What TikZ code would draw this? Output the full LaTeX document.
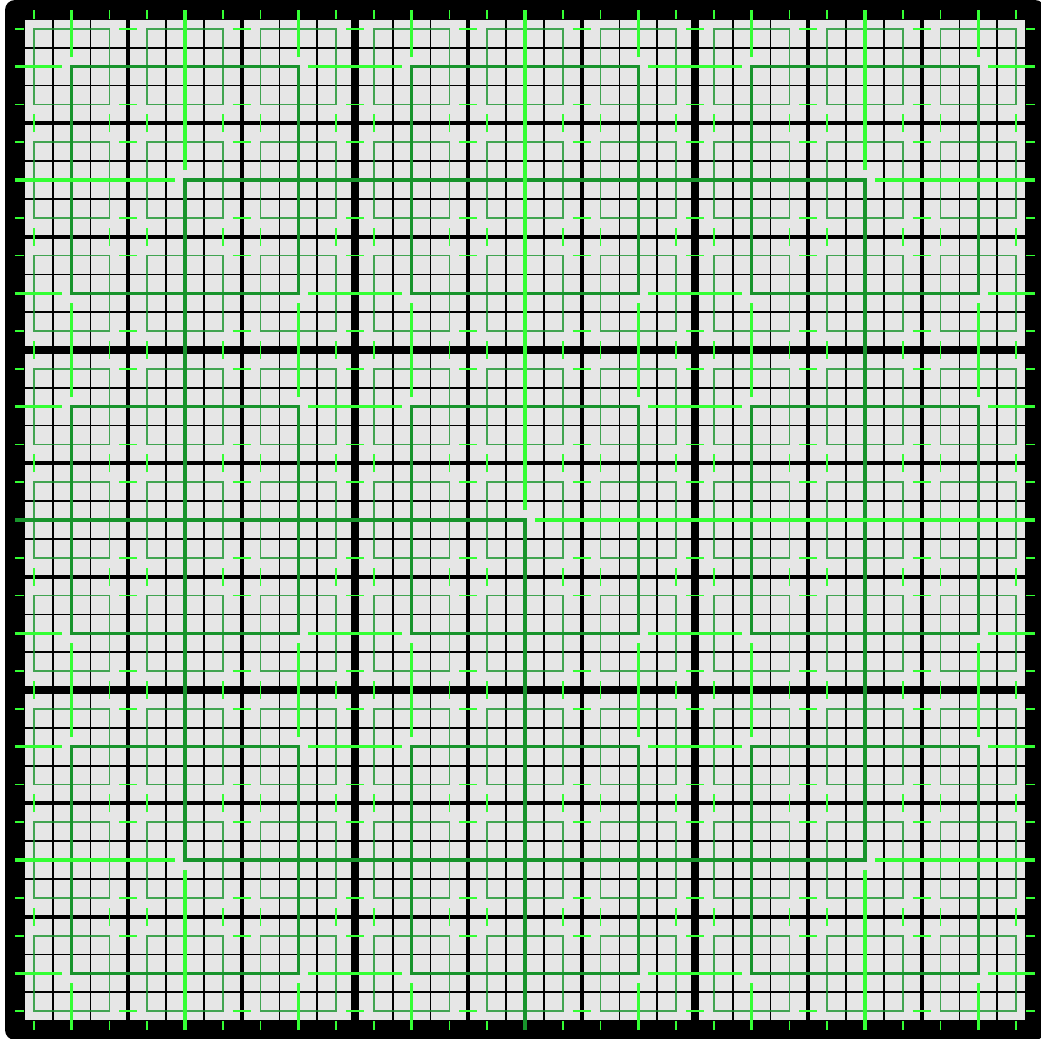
\documentclass[tikz,border=0pt]{standalone}
\definecolor{cellgray}{RGB}{230,230,230}
\definecolor{ringgreen}{RGB}{24,148,44}
\definecolor{spurgreen}{RGB}{52,255,52}

% one block: ring through the centres of its corner sub-blocks, spurs out to its edges
\newcommand{\ringblock}[4]{%
  \draw[ring#4] ({#1+#3/6},{#2+#3/6}) rectangle ({#1+5*#3/6},{#2+5*#3/6});
  \foreach \cornoff in {#3/6,5*#3/6}{
    \draw[spur#4] ({#1},{#2+\cornoff}) -- ({#1+#3/6-0.26},{#2+\cornoff});
    \draw[spur#4] ({#1+5*#3/6+0.26},{#2+\cornoff}) -- ({#1+#3},{#2+\cornoff});
    \draw[spur#4] ({#1+\cornoff},{#2}) -- ({#1+\cornoff},{#2+#3/6-0.26});
    \draw[spur#4] ({#1+\cornoff},{#2+5*#3/6+0.26}) -- ({#1+\cornoff},{#2+#3});
  }%
}

\begin{document}
\begin{tikzpicture}[
    ring0/.style={draw=ringgreen, line width=1.4pt, opacity=0.8},
    ring1/.style={draw=ringgreen, line width=2pt},
    ring2/.style={draw=ringgreen, line width=2.5pt},
    ring3/.style={draw=ringgreen, line width=3.5pt},
    spur0/.style={draw=spurgreen, line width=1.4pt},
    spur1/.style={draw=spurgreen, line width=2pt},
    spur2/.style={draw=spurgreen, line width=2.5pt},
    spur3/.style={draw=spurgreen, line width=3.5pt}
]
\useasboundingbox (-0.397,-0.212) rectangle (27.159,27.265);
\fill[cellgray] (0,0) rectangle (27,27);
\draw[line width=1.4pt] (0,0) grid (27,27);
\draw[line width=3pt, step=3] (0,0) grid (27,27);
\draw[line width=6.5pt, step=9] (0,0) grid (27,27);
\draw[line width=15pt, line join=round] (0,0) rectangle (27,27);

\foreach \i in {0,...,8}{
    \foreach \j in {0,...,8}{
        \ringblock{3*\i}{3*\j}{3}{0}
    }
}
\foreach \i in {0,1,2}{
    \foreach \j in {0,1,2}{
        \ringblock{9*\i}{9*\j}{9}{1}
    }
}
\ringblock{0}{0}{27}{2}

\draw[ring3] (0,13.5) -- (13.5,13.5) -- (13.5,0);
\draw[spur3] (13.5,27) -- (13.5,13.76);
\draw[spur3] (13.76,13.5) -- (27,13.5);
\end{tikzpicture}
\end{document}
